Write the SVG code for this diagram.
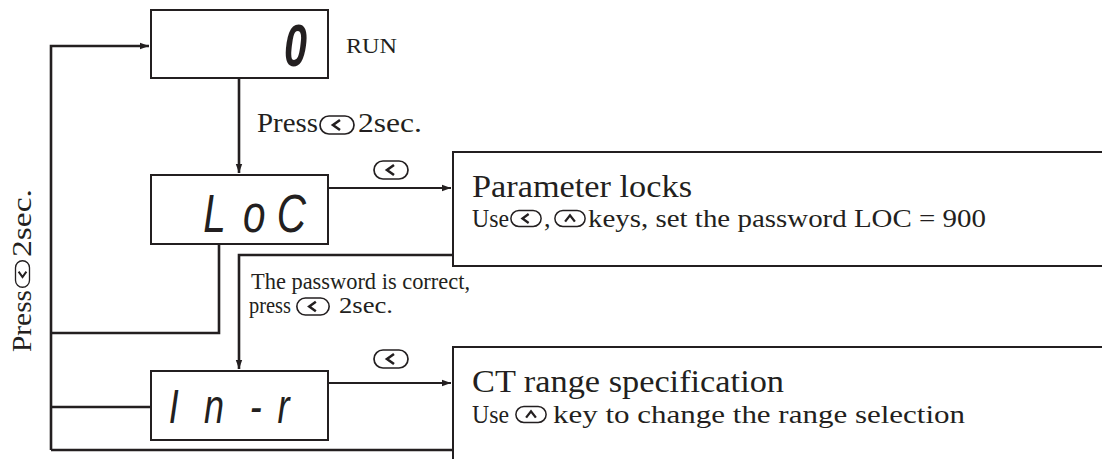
<svg xmlns="http://www.w3.org/2000/svg" xmlns:xlink="http://www.w3.org/1999/xlink" width="1102" height="459" viewBox="0 0 1102 459">
<style>
.bx{fill:#fff;stroke:#231f20;stroke-width:2}
.ln{fill:none;stroke:#231f20;stroke-width:2.6}
.t{font-family:"Liberation Serif","Times New Roman",serif;fill:#231f20}
.seg{font-family:"Liberation Sans",Arial,sans-serif;font-style:italic;fill:#231f20}
</style>
<defs>
<marker id="ah" markerUnits="userSpaceOnUse" markerWidth="10" markerHeight="8" refX="9" refY="4" orient="auto">
<path d="M0 0.8 L9 4 L0 7.2 Z" fill="#231f20"/>
</marker>
<symbol id="kL" viewBox="0 0 36 20">
<rect x="1" y="1" width="34" height="18" rx="9" fill="none" stroke="#231f20" stroke-width="1.7"/>
<path d="M21 5 L14 10 L21 15" fill="none" stroke="#231f20" stroke-width="2.6"/>
</symbol>
<symbol id="kU" viewBox="0 0 36 20">
<rect x="1" y="1" width="34" height="18" rx="9" fill="none" stroke="#231f20" stroke-width="1.7"/>
<path d="M12.5 13.5 L18 6.5 L23.5 13.5" fill="none" stroke="#231f20" stroke-width="2.6"/>
</symbol>
</defs>
<rect width="1102" height="459" fill="#fff"/>

<g id="connectors">
<path class="ln" d="M51 450 V46 H149" marker-end="url(#ah)"/>
<path class="ln" d="M239 78 V173" marker-end="url(#ah)"/>
<path class="ln" d="M328 188 H451" marker-end="url(#ah)" style="stroke-width:2"/>
<path class="ln" d="M219 244 V333 H51"/>
<path class="ln" d="M453 255 H239 V369" marker-end="url(#ah)"/>
<path class="ln" d="M328 383 H451" marker-end="url(#ah)" style="stroke-width:2"/>
<path class="ln" d="M51 407 H151"/>
<path class="ln" d="M453 450 H51"/>
</g>

<g id="run">
<rect class="bx" x="151" y="10" width="177" height="68"/>
<text class="seg" x="284" y="66" font-size="60" font-weight="bold" textLength="23" lengthAdjust="spacingAndGlyphs">0</text>
<text class="t" x="346" y="53" font-size="22" textLength="51" lengthAdjust="spacingAndGlyphs">RUN</text>
</g>

<g id="label-press">
<text class="t" x="257" y="132" font-size="27" textLength="61" lengthAdjust="spacingAndGlyphs">Press</text>
<use xlink:href="#kL" href="#kL" x="319" y="115" width="36" height="20"/>
<text class="t" x="358" y="132" font-size="27" textLength="64" lengthAdjust="spacingAndGlyphs">2sec.</text>
</g>

<g id="loc">
<rect class="bx" x="151" y="175" width="177" height="69"/>
<text class="seg" font-size="54" transform="translate(0,232) scale(0.75,1)"><tspan x="271" y="0">L</tspan><tspan x="324" y="0">o</tspan><tspan x="369" y="0">C</tspan></text>
</g>

<g id="key-loc">
<use xlink:href="#kL" href="#kL" x="372" y="160" width="38" height="20"/>
</g>

<g id="param-locks">
<rect class="bx" x="453" y="152" width="700" height="114"/>
<text class="t" x="472" y="197" font-size="31" textLength="220" lengthAdjust="spacingAndGlyphs">Parameter locks</text>
<text class="t" x="472" y="227" font-size="26" textLength="37" lengthAdjust="spacingAndGlyphs">Use</text>
<use xlink:href="#kL" href="#kL" x="510" y="209" width="32" height="19"/>
<text class="t" x="544" y="227" font-size="26">,</text>
<use xlink:href="#kU" href="#kU" x="554" y="209" width="32" height="19"/>
<text class="t" x="588" y="227" font-size="26" textLength="398" lengthAdjust="spacingAndGlyphs">keys, set the password LOC = 900</text>
</g>

<g id="label-password">
<text class="t" x="251" y="289" font-size="23" textLength="219" lengthAdjust="spacingAndGlyphs">The password is correct,</text>
<text class="t" x="249" y="313" font-size="23" textLength="42" lengthAdjust="spacingAndGlyphs">press</text>
<use xlink:href="#kL" href="#kL" x="295" y="297" width="36" height="19"/>
<text class="t" x="339" y="313" font-size="23" textLength="54" lengthAdjust="spacingAndGlyphs">2sec.</text>
</g>

<g id="inr">
<rect class="bx" x="151" y="371" width="177" height="69"/>
<text class="seg" font-size="48" transform="translate(0,423) scale(0.75,1)"><tspan x="225" y="0">I</tspan><tspan x="272" y="0">n</tspan><tspan x="333" y="0">-</tspan><tspan x="370" y="0">r</tspan></text>
</g>

<g id="key-inr">
<use xlink:href="#kL" href="#kL" x="372" y="349" width="38" height="20"/>
</g>

<g id="ct-range">
<rect class="bx" x="453" y="347" width="700" height="200"/>
<text class="t" x="472" y="392" font-size="31" textLength="312" lengthAdjust="spacingAndGlyphs">CT range specification</text>
<text class="t" x="472" y="423" font-size="26" textLength="37" lengthAdjust="spacingAndGlyphs">Use</text>
<use xlink:href="#kU" href="#kU" x="515" y="405" width="32" height="19"/>
<text class="t" x="553" y="423" font-size="26" textLength="412" lengthAdjust="spacingAndGlyphs">key to change the range selection</text>
</g>

<g id="label-return">
<g transform="translate(31,352) rotate(-90)">
<text class="t" x="0" y="0" font-size="27" textLength="62" lengthAdjust="spacingAndGlyphs">Press</text>
<use xlink:href="#kL" href="#kL" x="64" y="-18" width="28" height="19"/>
<text class="t" x="95" y="0" font-size="27" textLength="68" lengthAdjust="spacingAndGlyphs">2sec.</text>
</g>
</g>
</svg>
